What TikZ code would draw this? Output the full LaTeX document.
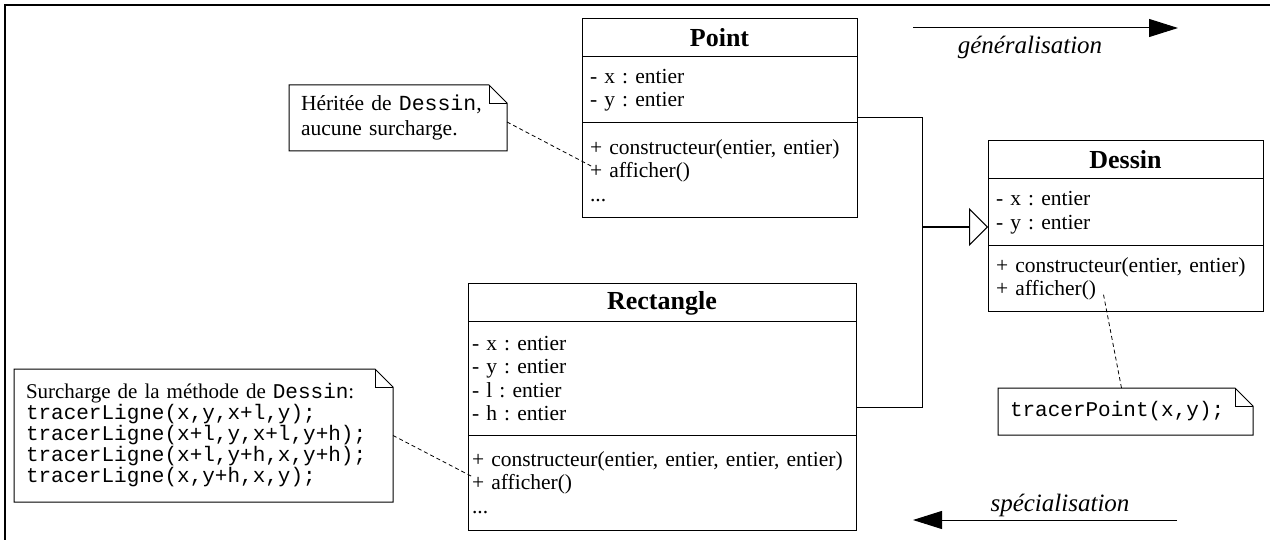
\documentclass[tikz,border=0pt]{standalone}
\usepackage{fontspec}
\setmainfont{Liberation Serif}
\setmonofont{Liberation Mono}
\usetikzlibrary{positioning,arrows.meta}
\frenchspacing
\newcommand\classfont{\fontsize{21.5}{23.5}\selectfont}
\newcommand\titlefont{\fontsize{26}{28}\selectfont\bfseries}
\newcommand\notefont{\fontsize{21}{21}\selectfont}
\newcommand\tagfont{\fontsize{25}{28}\selectfont\itshape}
\tikzset{
  classtitle/.style={draw, line width=1pt, outer sep=0pt, inner sep=0pt,
    minimum width=#1, minimum height=38pt, font=\titlefont},
  classpart/.style={draw, line width=1pt, outer sep=0pt, inner xsep=8pt,
    inner ysep=0pt, text width=#1, align=left, font=\classfont},
  notebox/.style={outer sep=0pt, inner xsep=12pt, inner ysep=0pt,
    text width=#1, align=left, anchor=north west},
  noteline/.style={line width=0.8pt, dash pattern=on 4pt off 3pt},
  tagline/.style={line width=1pt, -{Triangle[length=29pt,width=18pt]}}
}

\begin{document}
\begin{tikzpicture}[x=1pt, y=-1pt]
  \useasboundingbox (0,0) rectangle (1270,540);
  \draw[line width=2.5pt] (5,540) -- (5,5) -- (1270,5);

  \node[classtitle=275pt, anchor=north west] (point) at (582,19) {Point};
  \node[classpart=259pt, minimum height=66pt, below=0pt of point] (point-attr)
    {- x : entier\\- y : entier};
  \node[classpart=259pt, minimum height=95pt, below=0pt of point-attr] (point-meth)
    {+ constructeur(entier, entier)\\+ afficher()\\...};

  \node[classtitle=275pt, anchor=north west] (dessin) at (988,141) {Dessin};
  \node[classpart=259pt, minimum height=67pt, below=0pt of dessin] (dessin-attr)
    {- x : entier\\- y : entier};
  \node[classpart=259pt, minimum height=66pt, below=0pt of dessin-attr] (dessin-meth)
    {+ constructeur(entier, entier)\\+ afficher()};

  \node[classtitle=388pt, anchor=north west] (rect) at (468,284) {Rectangle};
  \node[classpart=380pt, inner xsep=4pt, minimum height=113pt, below=0pt of rect] (rect-attr)
    {- x : entier\\- y : entier\\- l : entier\\- h : entier};
  \node[classpart=380pt, inner xsep=4pt, minimum height=95pt, below=0pt of rect-attr] (rect-meth)
    {+ constructeur(entier, entier, entier, entier)\\+ afficher()\\...};

  \node[notebox=194pt, minimum height=66pt, font=\fontsize{21.5}{25}\selectfont] (note-herit) at (289,85)
    {Héritée de \texttt{Dessin},\\aucune surcharge.};
  \node[notebox=355pt, minimum height=133pt, font=\notefont] (note-surch) at (14,369)
    {Surcharge de la méthode de \texttt{Dessin}:\\
     \texttt{tracerLigne(x,y,x+l,y);}\\
     \texttt{tracerLigne(x+l,y,x+l,y+h);}\\
     \texttt{tracerLigne(x+l,y+h,x,y+h);}\\
     \texttt{tracerLigne(x,y+h,x,y);}};
  \node[notebox=231pt, minimum height=47pt, font=\notefont] (note-trace) at (998,388)
    {\texttt{tracerPoint(x,y);}};

  \foreach \n in {note-herit,note-surch,note-trace}{
    \draw[line width=1pt] (\n.north west) -- ([xshift=-18pt]\n.north east)
      -- ([yshift=-18pt]\n.north east) -- (\n.south east) -- (\n.south west) -- cycle;
    \draw[line width=0.8pt] ([xshift=-18pt]\n.north east) |- ([yshift=-18pt]\n.north east);
  }

  \coordinate (fork) at (922,227);
  \draw[line width=1pt] ([yshift=5pt]point-meth.north east) -| (fork);
  \draw[line width=1pt] ([yshift=28pt]rect-meth.north east) -| (fork);
  \draw[line width=1.5pt, -{Triangle[open, length=19pt, width=38pt, line width=1pt]}]
    (fork) -- (fork -| dessin-attr.west);

  \coordinate (point-aff) at ([xshift=10pt, yshift=4pt]point-meth.west);
  \coordinate (rect-aff) at ([xshift=4pt, yshift=6pt]rect-meth.west);
  \coordinate (dessin-aff) at ([xshift=115pt, yshift=-13pt]dessin-meth.west);
  \draw[noteline] ([yshift=-4pt]note-herit.east) -- (point-aff);
  \draw[noteline] (note-surch.east) -- (rect-aff);
  \draw[noteline] ([xshift=-4pt]note-trace.north) -- (dessin-aff);

  \coordinate (gen-from) at (913,28);
  \coordinate (gen-to) at (1178,28);
  \draw[tagline] (gen-from) -- (gen-to);
  \node[font=\tagfont] (gen-label) at (1030,47) {généralisation};

  \coordinate (spe-from) at (1177,520);
  \coordinate (spe-to) at (913,520);
  \draw[tagline] (spe-from) -- (spe-to);
  \node[font=\tagfont] (spe-label) at (1060,505) {spécialisation};
\end{tikzpicture}
\end{document}
